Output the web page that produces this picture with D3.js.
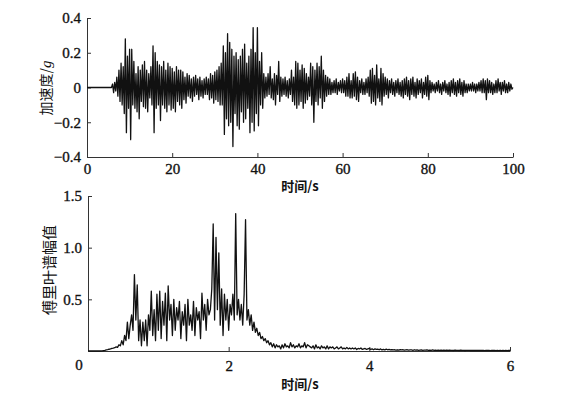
<!DOCTYPE html>
<html>
<head>
<meta charset="utf-8">
<script src="https://cdn.jsdelivr.net/npm/d3@7"></script>
<style>
  body { margin: 0; background: #fff; }
  text { font-family: "Liberation Serif", "DejaVu Serif", serif; }
  .cjk { font-family: "Noto Sans CJK SC", sans-serif; }
  .num { stroke: #111; stroke-width: 0.35px; }
</style>
</head>
<body>
<div id="chart"></div>
<script>
// acceleration record, sampled every 0.25 s from 0 to 100 s (g)
var accStep = 0.25;
var accValues = [
  0,0,0,0, 0,0,0,0, 0,0,0,0, 0,0,0,0, 0,0,0,0, 0,0,0,0,
  0.02,-0.03,0.03,-0.02, 0.06,-0.05,0.1,-0.08, 0.14,-0.1,0.12,-0.15,
  0.28,-0.26,0.18,-0.12, 0.22,-0.30,0.22,-0.1, 0.15,-0.12,0.08,-0.14,
  0.12,-0.18,0.1,-0.08, 0.13,-0.11,0.15,-0.12, 0.1,-0.14,0.08,-0.06,
  0.12,-0.1,0.24,-0.26, 0.2,-0.12,0.15,-0.1, 0.13,-0.19,0.12,-0.1,
  0.15,-0.12,0.1,-0.14, 0.14,-0.1,0.12,-0.13, 0.11,-0.12,0.09,-0.14,
  0.12,-0.08,0.1,-0.1, 0.1,-0.12,0.09,-0.07, 0.06,-0.09,0.08,-0.05,
  0.07,-0.06,0.05,-0.08, 0.06,-0.05,0.07,-0.04, 0.05,-0.07,0.06,-0.05,
  0.04,-0.06,0.05,-0.04, 0.06,-0.04,0.05,-0.07, 0.08,-0.06,0.07,-0.09,
  0.09,-0.07,0.1,-0.08, 0.12,-0.1,0.14,-0.1, 0.24,-0.27,0.2,-0.18,
  0.31,-0.22,0.26,-0.2, 0.22,-0.34,0.18,-0.15, 0.2,-0.22,0.16,-0.24,
  0.18,-0.14,0.22,-0.2, 0.25,-0.18,0.14,-0.12, 0.18,-0.26,0.22,-0.2,
  0.345,-0.25,0.2,-0.15, 0.345,-0.22,0.15,-0.1, 0.2,-0.12,0.08,-0.06,
  0.06,-0.05,0.08,-0.04, 0.12,-0.06,0.05,-0.07, 0.08,-0.1,0.07,-0.04,
  0.15,-0.08,0.06,-0.05, 0.05,-0.04,0.06,-0.05, 0.04,-0.06,0.05,-0.04,
  0.1,-0.08,0.06,-0.1, 0.15,-0.12,0.14,-0.1, 0.1,-0.08,0.13,-0.12,
  0.11,-0.09,0.08,-0.07, 0.06,-0.05,0.14,-0.1, 0.12,-0.2,0.1,-0.08,
  0.14,-0.1,0.12,-0.06, 0.18,-0.12,0.1,-0.08, 0.07,-0.05,0.06,-0.04,
  0.05,-0.04,0.03,-0.03, 0.04,-0.03,0.05,-0.04, 0.03,-0.02,0.04,-0.03,
  0.05,-0.03,0.04,-0.05, 0.06,-0.05,0.08,-0.06, 0.04,-0.06,0.08,-0.05,
  0.09,-0.07,0.06,-0.08, 0.04,-0.03,0.05,-0.04, 0.03,-0.04,0.05,-0.03,
  0.06,-0.05,0.1,-0.09, 0.11,-0.08,0.07,-0.1, 0.13,-0.06,0.05,-0.08,
  0.11,-0.1,0.08,-0.05, 0.06,-0.04,0.05,-0.06, 0.04,-0.03,0.05,-0.04,
  0.03,-0.05,0.04,-0.03, 0.05,-0.04,0.03,-0.05, 0.04,-0.06,0.05,-0.04,
  0.06,-0.05,0.04,-0.07, 0.05,-0.04,0.06,-0.05, 0.03,-0.06,0.05,-0.04,
  0.04,-0.03,0.05,-0.06, 0.03,-0.04,0.06,-0.05, 0.07,-0.07,0.04,-0.03,
  0.03,-0.02,0.02,-0.03, 0.03,-0.02,0.04,-0.03, 0.02,-0.04,0.03,-0.02,
  0.04,-0.03,0.02,-0.04, 0.03,-0.05,0.04,-0.03, 0.05,-0.04,0.03,-0.05,
  0.04,-0.03,0.05,-0.04, 0.03,-0.05,0.04,-0.03, 0.02,-0.03,0.02,-0.02,
  0.02,-0.02,0.03,-0.02, 0.02,-0.03,0.02,-0.02, 0.03,-0.02,0.04,-0.03,
  0.05,-0.03,0.04,-0.07, 0.05,-0.03,0.04,-0.03, 0.03,-0.04,0.02,-0.03,
  0.04,-0.03,0.05,-0.02, 0.03,-0.04,0.03,-0.02, 0.04,-0.03,0.02,-0.03,
  0.03,-0.02,0.02,-0.01, 0
];
var accXTicks = [0, 20, 40, 60, 80, 100];
var accYTicks = [0.4, 0.2, 0, -0.2, -0.4];

// Fourier amplitude spectrum, sampled every 0.02 from 0 to 6
var fftStep = 0.02;
var fftValues = [
  0,0,0,0,0,0,0,0,0,0,
  0.002,0.004,0.006,0.01,0.013,0.017,0.02,0.025,0.028,0.032,
  0.04,0.035,0.06,0.05,0.1,0.06,0.15,0.1,0.28,0.12,
  0.25,0.35,0.2,0.74,0.3,0.64,0.1,0.3,0.05,0.28,
  0.1,0.3,0.05,0.35,0.2,0.58,0.15,0.4,0.1,0.55,
  0.2,0.58,0.12,0.48,0.25,0.56,0.1,0.63,0.3,0.45,
  0.15,0.5,0.2,0.42,0.3,0.48,0.12,0.38,0.25,0.45,
  0.1,0.5,0.25,0.35,0.2,0.48,0.15,0.42,0.3,0.38,
  0.12,0.56,0.3,0.45,0.2,0.5,0.35,0.4,0.6,1.23,
  0.3,1.1,0.4,0.95,0.25,0.6,0.15,0.55,0.3,0.5,
  0.2,0.45,0.35,0.55,0.3,1.33,0.35,0.5,0.3,0.45,
  0.25,0.55,1.27,0.3,0.4,0.25,0.35,0.2,0.28,0.18,
  0.22,0.15,0.18,0.12,0.14,0.1,0.12,0.08,0.1,0.06,
  0.08,0.04,0.07,0.03,0.06,0.04,0.05,0.02,0.06,0.03,
  0.07,0.04,0.05,0.03,0.08,0.04,0.06,0.03,0.05,0.04,
  0.07,0.03,0.05,0.04,0.08,0.03,0.06,0.05,0.04,0.03,
  0.05,0.02,0.06,0.03,0.04,0.02,0.05,0.03,0.04,0.02,
  0.05,0.02,0.04,0.03,0.04,0.02,0.03,0.04,0.02,0.03,
  0.04,0.02,0.03,0.02,0.035,0.02,0.03,0.02,0.03,0.02,
  0.03,0.015,0.025,0.02,0.03,0.015,0.02,0.025,0.015,0.02,
  0.025,0.015,0.02,0.012,0.02,0.015,0.018,0.012,0.02,0.01,
  0.015,0.01,0.018,0.012,0.015,0.01,0.014,0.01,0.012,0.008,
  0.012,0.008,0.014,0.01,0.012,0.008,0.01,0.012,0.008,0.01,
  0.01,0.007,0.012,0.008,0.01,0.007,0.009,0.011,0.007,0.009,
  0.008,0.01,0.006,0.009,0.007,0.01,0.006,0.008,0.007,0.009,
  0.007,0.009,0.006,0.008,0.006,0.009,0.005,0.008,0.006,0.007,
  0.005,0.008,0.006,0.007,0.005,0.008,0.006,0.007,0.005,0.006,
  0.006,0.007,0.005,0.006,0.005,0.007,0.005,0.006,0.005,0.006,
  0.005,0.006,0.004,0.006,0.005,0.006,0.004,0.005,0.005,0.006,
  0.004,0.005,0.004,0.006,0.004,0.005,0.004,0.005,0.004,0.005,0.005
];
var fftXTicks = [2, 4, 6];
var fftYTicks = [0.5, 1.0, 1.5];

var svg = d3.select("#chart").append("svg")
    .attr("width", 568)
    .attr("height", 401);

function fmtTick(d) {
    if (d === 0) return "0";
    var s = Math.abs(d).toFixed(1);
    return (d < 0 ? "\u2212" : "") + s;
}

// shared look for every axis
function styleAxis(g) {
    g.select(".domain").attr("stroke", "#333");
    g.selectAll(".tick line").attr("stroke", "#333");
    g.selectAll("text")
        .attr("class", "num")
        .style("font-size", "15px")
        .style("font-family", "Liberation Serif")
        .attr("fill", "#111");
}

// ---------- top panel: acceleration ----------
var x1 = d3.scaleLinear().domain([0, 100]).range([87, 513]);
var y1 = d3.scaleLinear().domain([-0.4, 0.4]).range([157, 18]);

var g1 = svg.append("g");

g1.append("g")
    .attr("transform", "translate(0,157)")
    .call(d3.axisBottom(x1).tickValues(accXTicks).tickSizeInner(-4).tickSizeOuter(0).tickPadding(6).tickFormat(d3.format("d")))
    .call(styleAxis);

g1.append("g")
    .attr("transform", "translate(87,0)")
    .call(d3.axisLeft(y1).tickValues(accYTicks).tickSizeInner(-4).tickSizeOuter(0).tickPadding(6).tickFormat(fmtTick))
    .call(styleAxis);

g1.append("path")
    .datum(accValues)
    .attr("fill", "none")
    .attr("stroke", "#111")
    .attr("stroke-width", 1.3)
    .attr("stroke-linejoin", "round")
    .attr("d", d3.line()
        .x((d, i) => x1(i * accStep))
        .y(d => y1(d)));

g1.append("text")
    .attr("class", "cjk")
    .attr("x", 300).attr("y", 191)
    .attr("text-anchor", "middle")
    .style("font-size", "13px")
    .style("font-weight", "bold")
    .attr("fill", "#111")
    .text("时间/s");

var yt1 = g1.append("text")
    .attr("class", "cjk")
    .attr("transform", "translate(51,88) rotate(-90)")
    .attr("text-anchor", "middle")
    .style("font-size", "14px")
    .attr("fill", "#111");
yt1.append("tspan").text("加速度/");
yt1.append("tspan").style("font-family", "Liberation Serif").style("font-style", "italic").style("font-size", "15px").text("g");

// ---------- bottom panel: Fourier spectrum ----------
var x2 = d3.scaleLinear().domain([0, 6]).range([88, 510]);
var y2 = d3.scaleLinear().domain([0, 1.5]).range([351, 196]);

var g2 = svg.append("g");

g2.append("g")
    .attr("transform", "translate(0,351)")
    .call(d3.axisBottom(x2).tickValues(fftXTicks).tickSizeInner(-4).tickSizeOuter(0).tickPadding(9).tickFormat(d3.format("d")))
    .call(styleAxis);

g2.append("g")
    .attr("transform", "translate(88,0)")
    .call(d3.axisLeft(y2).tickValues(fftYTicks).tickSizeInner(-4).tickSizeOuter(0).tickPadding(6).tickFormat(d3.format(".1f")))
    .call(styleAxis);

// shared origin label
g2.append("text")
    .attr("class", "num")
    .attr("x", x2(0) - 9).attr("y", y2(0) + 19)
    .attr("text-anchor", "middle")
    .style("font-size", "15px")
    .attr("fill", "#111")
    .text("0");

g2.append("path")
    .datum(fftValues)
    .attr("fill", "none")
    .attr("stroke", "#111")
    .attr("stroke-width", 1.3)
    .attr("stroke-linejoin", "round")
    .attr("d", d3.line()
        .x((d, i) => x2(i * fftStep))
        .y(d => y2(d)));

g2.append("text")
    .attr("class", "cjk")
    .attr("x", 300).attr("y", 389)
    .attr("text-anchor", "middle")
    .style("font-size", "13px")
    .style("font-weight", "bold")
    .attr("fill", "#111")
    .text("时间/s");

g2.append("text")
    .attr("class", "cjk")
    .attr("transform", "translate(55,270) rotate(-90)")
    .attr("text-anchor", "middle")
    .style("font-size", "15px")
    .attr("fill", "#111")
    .text("傅里叶谱幅值");
</script>
</body>
</html>
